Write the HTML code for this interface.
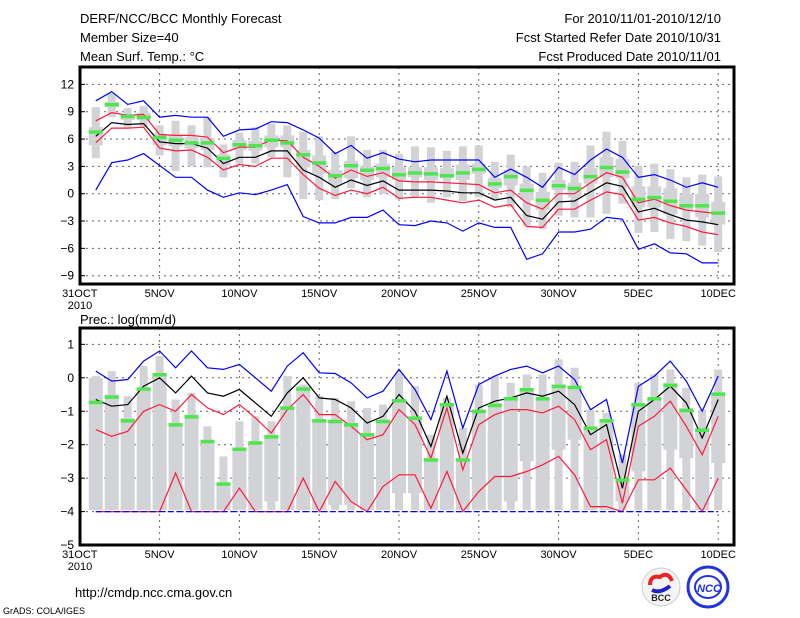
<!DOCTYPE html>
<html><head><meta charset="utf-8"><style>
body{margin:0;background:#fff;}
svg{display:block;font-family:"Liberation Sans",sans-serif;}
</style></head><body>
<svg id="c" width="800" height="618" viewBox="0 0 800 618">
<g font-size="13" fill="#000">
<text x="80" y="23">DERF/NCC/BCC Monthly Forecast</text>
<text x="80" y="42">Member Size=40</text>
<text x="80" y="61">Mean Surf. Temp.: °C</text>
<text x="721" y="23" text-anchor="end">For 2010/11/01-2010/12/10</text>
<text x="721" y="42" text-anchor="end">Fcst Started Refer Date 2010/10/31</text>
<text x="721" y="61" text-anchor="end">Fcst Produced Date 2010/11/01</text>
</g>
<text x="80" y="324" font-size="13">Prec.: log(mm/d)</text>
<g id="top"></g>
<g id="bot"></g>
<text x="75" y="597" font-size="13">http://cmdp.ncc.cma.gov.cn</text>
<text x="3" y="614" font-size="9">GrADS: COLA/IGES</text>
<g>
<circle cx="661" cy="587" r="19" fill="#f4f4f4" stroke="#ccc"/>
<path d="M650 585 q0 -10 10 -8 q8 -6 12 4" stroke="#e22" stroke-width="4" fill="none"/>
<path d="M652 590 q8 4 18 -4" stroke="#22c" stroke-width="4" fill="none"/>
<text x="661" y="601" font-size="9" font-weight="bold" text-anchor="middle" fill="#223">BCC</text>
</g>
<g>
<circle cx="708" cy="587" r="20" fill="#fff" stroke="#2233dd" stroke-width="3"/>
<ellipse cx="708" cy="587" rx="13" ry="11" fill="none" stroke="#2233dd" stroke-width="2"/>
<text x="709" y="592" font-size="11" font-weight="bold" font-style="italic" text-anchor="middle" fill="#2233dd">NCC</text>
</g>
</svg>
<script>
// ---- Temperature data (days 1..40) ----
const tBlueHi=[10.2,11.2,9.8,10.2,8.4,8.6,8.4,8.4,6.3,7.0,7.1,7.9,7.8,7.0,6.1,4.4,5.3,3.9,4.5,3.8,3.5,3.7,3.7,3.7,3.7,1.8,2.7,1.8,0.7,2.9,2.1,3.7,4.9,4.0,1.8,2.1,1.5,0.7,1.2,0.7];
const tBlueLo=[0.4,3.4,3.7,4.4,3.1,1.8,1.8,0.4,-0.4,0.1,-0.1,0.4,1.0,-2.5,-3.2,-3.2,-2.6,-2.6,-1.8,-3.4,-3.5,-3.0,-3.2,-4.1,-3.2,-3.7,-3.7,-7.2,-6.6,-4.2,-4.2,-3.9,-2.6,-2.8,-6.1,-5.5,-6.5,-6.6,-7.6,-7.6];
const tRedHi=[8.0,8.9,8.6,8.7,6.5,6.4,6.4,6.2,4.5,5.1,5.1,5.9,5.8,4.0,3.0,1.7,2.6,1.9,2.3,1.4,1.3,1.3,1.2,1.1,1.0,0.1,0.4,-1.0,-1.7,0,0,1.2,2.3,1.8,-1.0,-0.6,-1.3,-1.8,-2.0,-2.2];
const tRedLo=[5.6,7.2,7.2,7.3,5.0,4.7,4.8,4.0,2.6,3.2,3.0,3.9,3.9,2.1,0.6,-0.2,0.4,0,0.7,-0.5,-0.4,-0.4,-0.7,-1.0,-0.7,-1.5,-1.2,-3.6,-3.7,-1.7,-1.7,-0.7,0.2,-0.1,-2.9,-2.6,-3.2,-3.6,-4.2,-4.5];
const tMean=[6.3,7.8,7.6,7.7,5.7,5.5,5.5,5.0,3.3,4.0,4.0,4.7,4.7,2.6,1.8,0.7,1.5,0.9,1.4,0.4,0.4,0.4,0.3,0.1,0.1,-0.7,-0.4,-2.4,-2.8,-0.9,-0.8,0.2,1.2,0.8,-2.0,-1.6,-2.3,-2.9,-3.1,-3.4];
const tObs=[6.8,9.8,8.5,8.4,6.2,5.9,5.6,5.6,3.9,5.4,5.3,5.9,5.6,4.3,3.4,2.0,3.1,2.6,2.8,2.1,2.3,2.2,2.0,2.3,2.7,1.1,1.9,0.4,-0.7,0.9,0.6,1.9,2.9,2.4,-0.6,-0.4,-0.8,-1.3,-1.3,-2.1];
const tMax=[9.5,11.0,9.4,9.6,7.5,8.0,7.5,8.4,5.4,6.7,7.3,7.7,7.5,6.8,6.3,4.6,6.3,4.8,4.8,4.4,5.2,5.1,4.7,5.2,5.3,3.5,4.3,3.0,2.3,3.4,3.5,5.3,6.8,5.8,3.1,3.3,2.7,1.8,2.1,1.9];
const tQ75=[7.3,10.1,8.7,8.9,6.6,6.5,6.2,6.1,4.3,5.9,5.8,6.4,6.4,4.8,4.2,2.6,3.6,3.0,3.3,2.9,2.9,2.9,2.8,3.2,3.3,1.7,2.6,1.1,0.2,1.5,1.2,2.8,4.0,3.8,0.8,0.8,0.6,0,0,-0.9];
const tQ25=[5.3,9.5,8.1,8.1,5.3,5.2,5.0,4.8,3.1,4.8,4.7,5.1,5.1,2.9,2.2,1.1,1.7,1.5,1.8,1.5,1.8,1.5,1.7,1.5,2.2,0.6,0.9,-0.7,-1.8,0.4,-0.4,1.1,1.8,1.7,-1.5,-1.5,-2.3,-1.8,-2.6,-3.4];
const tMin=[3.9,8.4,7.3,7.3,4.2,2.5,3.0,2.9,1.8,3.3,3.3,4.0,1.8,-0.6,-0.7,-0.6,0.6,-0.4,0,-0.6,-0.4,-1.0,-0.4,-0.8,-0.4,-0.6,-1.5,-3.5,-3.9,-2.4,-2.6,-2.6,-2.2,-1.1,-4.3,-4.2,-5.0,-5.2,-5.7,-6.4];
const tTicks=[12,9,6,3,0,-3,-6,-9];
// ---- Precipitation data (log mm/d) ----
const pBlueHi=[0.2,-0.1,-0.05,0.5,0.8,0.3,0.8,0.3,0.25,0.4,0,-0.4,0.35,0.75,0.15,0.13,-0.15,-0.6,-0.4,0.25,-0.35,-1.25,0.2,-1.5,-0.2,0.05,0.25,0.35,0.15,0.35,-0.05,-0.95,-0.65,-2.55,-0.25,0.05,0.5,-0.1,-1.0,0.05];
const pBlueLo=[-4,-4,-4,-4,-4,-4,-4,-4,-4,-4,-4,-4,-4,-4,-4,-4,-4,-4,-4,-4,-4,-4,-4,-4,-4,-4,-4,-4,-4,-4,-4,-4,-4,-4,-4,-4,-4,-4,-4,-4];
const pRedHi=[-1.55,-1.75,-1.6,-1.0,-0.8,-1.0,-0.5,-0.9,-1.1,-0.8,-1.2,-1.65,-0.95,-0.5,-1.1,-1.1,-1.45,-1.85,-1.7,-0.95,-1.4,-2.4,-0.9,-2.75,-1.4,-1.1,-0.95,-0.95,-1.05,-0.85,-1.25,-2.15,-1.85,-3.75,-1.45,-1.15,-0.7,-1.45,-2.3,-1.15];
const pRedLo=[-4,-4,-4,-4,-4,-2.85,-4,-4,-4,-3.3,-4,-4,-4,-3.0,-4,-3.1,-3.7,-4,-3.25,-2.9,-2.9,-3.9,-2.8,-4,-3.4,-2.95,-2.95,-2.8,-2.6,-2.35,-2.9,-3.85,-3.85,-4,-3.05,-3.05,-2.7,-3.35,-4,-3.0];
const pMean=[-0.65,-0.85,-0.8,-0.25,0,-0.45,0.05,-0.45,-0.55,-0.35,-0.75,-1.15,-0.45,0,-0.6,-0.65,-0.9,-1.35,-1.15,-0.5,-1.0,-2.05,-0.55,-2.25,-0.9,-0.7,-0.6,-0.45,-0.55,-0.4,-0.8,-1.7,-1.4,-3.3,-1.0,-0.65,-0.25,-0.75,-1.8,-0.65];
const pObs=[-0.73,-0.57,-1.28,-0.33,0.1,-1.4,-1.16,-1.9,-3.17,-2.13,-1.94,-1.76,-0.9,-0.33,-1.28,-1.3,-1.4,-1.7,-1.3,-0.68,-1.2,-2.45,-0.8,-2.45,-1.0,-0.82,-0.62,-0.35,-0.62,-0.25,-0.28,-1.5,-1.28,-3.05,-0.8,-0.62,-0.22,-0.97,-1.56,-0.48];
const pMax=[0.05,0.2,-0.55,0.35,0.65,-0.65,-0.45,-1.45,-2.35,-1.3,-1.15,-1.3,0.05,-0.2,-0.55,-0.6,-0.7,-0.9,-0.8,0.15,-0.25,-1.7,-0.6,-1.5,-0.2,0.05,-0.15,0.1,0.1,0.55,0.3,-0.95,-1.05,-2.3,-0.15,0.1,0.25,-0.3,-0.95,0.25];
const pQ75=[0.0,-0.5,-1.2,-0.3,0.1,-1.35,-1.1,-1.85,-3.15,-2.1,-1.9,-1.7,-0.85,-0.25,-1.25,-1.25,-1.35,-1.65,-1.25,-0.65,-1.15,-2.4,-0.8,-2.4,-0.95,-0.75,-0.65,-0.35,-0.6,-0.2,-0.3,-1.45,-1.25,-3.0,-0.75,-0.6,-0.15,-0.9,-1.5,-0.45];
const pQ25=[-3.95,-3.95,-3.95,-3.95,-3.95,-3.95,-3.95,-3.95,-3.95,-3.95,-3.95,-3.7,-3.95,-3.95,-3.95,-3.8,-3.8,-3.95,-3.95,-3.45,-3.45,-3.95,-3.95,-3.95,-3.95,-3.95,-3.7,-2.5,-3.95,-2.15,-1.85,-3.95,-3.95,-3.7,-2.8,-3.95,-2.15,-2.4,-3.95,-2.55];
const pMin=[-3.95,-3.95,-3.95,-3.95,-3.95,-3.95,-3.95,-3.95,-3.95,-3.95,-3.95,-3.95,-3.95,-3.95,-3.95,-3.95,-3.95,-3.95,-3.95,-3.95,-3.95,-3.95,-3.95,-3.95,-3.95,-3.95,-3.95,-3.95,-3.95,-3.95,-3.95,-3.95,-3.95,-3.95,-3.95,-3.95,-3.95,-3.95,-3.95,-3.95];
const pTicks=[1,0,-1,-2,-3,-4,-5];
const dateTicks=[[0,"31OCT"],[5,"5NOV"],[10,"10NOV"],[15,"15NOV"],[20,"20NOV"],[25,"25NOV"],[30,"30NOV"],[35,"5DEC"],[40,"10DEC"]];

const NS="http://www.w3.org/2000/svg";
const X0=80,X1=734;
function xs(d){return 79.8+15.96*d;}
function mk(p,tag,at){const e=document.createElementNS(NS,tag);for(const k in at)e.setAttribute(k,at[k]);p.appendChild(e);return e;}

function panel(g,top,bot,ys,ticks,d,names){
  ticks.forEach(v=>{const y=ys(v);
    if(y>top+2&&y<bot-2){const l=mk(g,'line',{x1:X0,x2:X1,y1:y,y2:y,stroke:'#666','stroke-dasharray':'2,4','stroke-width':1});
    
    }
    const tk=mk(g,'line',{x1:X0,x2:X0+5,y1:y,y2:y,stroke:'#000'});
    
    
    const t=mk(g,'text',{x:X0-6,y:y+4,'text-anchor':'end','font-size':12});
    t.textContent=String(v).replace('-','\u2212');
    
    
  });
  dateTicks.forEach(([dd,lab])=>{const x=xs(dd);
    if(dd>0){const l=mk(g,'line',{x1:x,x2:x,y1:top,y2:bot,stroke:'#666','stroke-dasharray':'2,4'});
    
    }
    const t=mk(g,'text',{x:x,y:bot+13,'text-anchor':'middle','font-size':11});
    t.textContent=lab;
    
    
  });
  const yr=mk(g,'text',{x:X0,y:bot+25,'font-size':11,'text-anchor':'middle'});yr.textContent='2010';
  
  
  for(let i=0;i<40;i++){const x=xs(i+1);
    const w=mk(g,'rect',{x:x-4,y:ys(d.max[i]),width:8,height:Math.max(0,ys(d.min[i])-ys(d.max[i])),fill:'#d2d3d7'});
    
    
    const b=mk(g,'rect',{x:x-7,y:ys(d.q75[i]),width:14,height:Math.max(0,ys(d.q25[i])-ys(d.q75[i])),fill:'#d2d3d7'});
    
    
  }
  const line=(arr,col,name,dash)=>{const pts=arr.map((v,i)=>xs(i+1).toFixed(1)+','+ys(v).toFixed(1)).join(' ');
    const p=mk(g,'polyline',{points:pts,fill:'none',stroke:col,'stroke-width':1.2});
    if(dash)p.setAttribute('stroke-dasharray',dash);
    
    };
  line(d.bhi,'#0000ff','blue-upper-line');
  line(d.rhi,'#ff1a3c','red-upper-line');
  line(d.rlo,'#ff1a3c','red-lower-line');
  line(d.blo,'#0000ff','blue-lower-line',d.dash);
  line(d.mean,'#000','ensemble-mean-line');
  for(let i=0;i<40;i++){const r=mk(g,'rect',{x:xs(i+1)-7,y:ys(d.obs[i])-1.5,width:14,height:3.5,fill:'#4ee64e'});
    
    }
  const f=mk(g,'rect',{x:X0,y:top,width:X1-X0,height:bot-top,fill:'none',stroke:'#000','stroke-width':3});
  
  
}
const tys=v=>193.7-9.11*v;
const pys=v=>377.8-33.45*v;
panel(document.getElementById('top'),67,284,tys,tTicks,{max:tMax,q75:tQ75,q25:tQ25,min:tMin,bhi:tBlueHi,blo:tBlueLo,rhi:tRedHi,rlo:tRedLo,mean:tMean,obs:tObs});
panel(document.getElementById('bot'),328,545,pys,pTicks,{max:pMax,q75:pQ75,q25:pQ25,min:pMin,bhi:pBlueHi,blo:pBlueLo,rhi:pRedHi,rlo:pRedLo,mean:pMean,obs:pObs,dash:'6,3'});
</script>
</body></html>
